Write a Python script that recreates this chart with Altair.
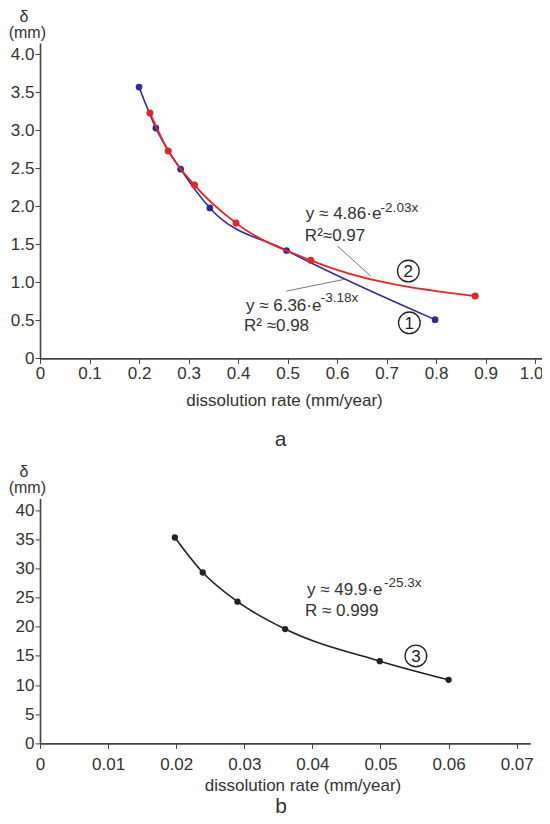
import altair as alt
import pandas as pd

FONT = "Liberation Sans"
BLUE = "#2e2d8c"
RED = "#e4252b"
BLACK = "#222222"
TXT = "#333333"

# ---- data ----
blue_x = [0.200, 0.234, 0.284, 0.343, 0.498, 0.798]
blue_y = [3.57, 3.03, 2.49, 1.98, 1.42, 0.51]
red_x = [0.222, 0.259, 0.312, 0.396, 0.547, 0.879]
red_y = [3.23, 2.73, 2.28, 1.78, 1.29, 0.82]
b_x = [0.0198, 0.0239, 0.0290, 0.0360, 0.0499, 0.0600]
b_y = [35.3, 29.3, 24.3, 19.6, 14.1, 10.9]

top_xticks = [0, 0.1, 0.2, 0.3, 0.4, 0.5, 0.6, 0.7, 0.8, 0.9, 1.0]
top_yticks = [0, 0.5, 1.0, 1.5, 2.0, 2.5, 3.0, 3.5, 4.0]
bot_xticks = [0, 0.01, 0.02, 0.03, 0.04, 0.05, 0.06, 0.07]
bot_yticks = [0, 5, 10, 15, 20, 25, 30, 35, 40]

# annotations (data coordinates)
top_ann_text = ["y ≈ 4.86·e", "R²≈0.97", "y ≈ 6.36·e", "R² ≈0.98"]
top_ann_x = [0.537, 0.535, 0.416, 0.412]
top_ann_y = [1.895, 1.61, 0.69, 0.425]
top_sup_text = ["-2.03x", "-3.18x"]
top_sup_x = [0.688, 0.567]
top_sup_y = [1.98, 0.80]
top_lead_x = [0.601, 0.498]
top_lead_y = [1.478, 0.886]
top_lead_x2 = [0.668, 0.614]
top_lead_y2 = [1.083, 1.039]
top_circ_text = ["2", "1"]
top_circ_x = [0.744, 0.746]
top_circ_y = [1.149, 0.468]

bot_ann_text = ["y ≈ 49.9·e", "R ≈ 0.999"]
bot_ann_x = [0.0392, 0.0389]
bot_ann_y = [26.3, 22.7]
bot_sup_text = ["-25.3x"]
bot_sup_x = [0.0505]
bot_sup_y = [27.55]
bot_circ_text = ["3"]
bot_circ_x = [0.0552]
bot_circ_y = [15.0]

x_title = "dissolution rate (mm/year)"

# ---- scales / axes ----
xs_top = alt.Scale(domain=[0, 1.018], nice=False, zero=False)
ys_top = alt.Scale(domain=[0, 4.15], nice=False, zero=False)
xs_bot = alt.Scale(domain=[0, 0.072], nice=False, zero=False)
ys_bot = alt.Scale(domain=[0, 42], nice=False, zero=False)

xax_top = alt.Axis(values=top_xticks, title=x_title,
                   labelExpr="datum.value == 0 ? '0' : format(datum.value, '.1f')",
                   labelOffset={"condition": {"test": "datum.value > 0.95", "value": -4}, "value": 0},
                   titleX=244, titleY=42, titleBaseline="middle", titleAlign="center",
                   labelPadding=2, tickSize=5, labelFlush=False, labelOverlap=False)
yax_top = alt.Axis(values=top_yticks, title=None,
                   labelExpr="datum.value == 0 ? '0' : format(datum.value, '.1f')",
                   labelPadding=1, tickSize=5, labelOverlap=False)
xax_bot = alt.Axis(values=bot_xticks, title=x_title,
                   labelExpr="datum.value == 0 ? '0' : format(datum.value, '.2f')",
                   titleX=262.5, titleY=41.6, titleBaseline="middle", titleAlign="center",
                   labelPadding=8, tickSize=5, labelFlush=False, labelOverlap=False)
yax_bot = alt.Axis(values=bot_yticks, title=None, format="d",
                   labelPadding=1, tickSize=5, labelOverlap=False)


def enc(xs, ys, xa, ya):
    return dict(x=alt.X("x:Q", scale=xs, axis=xa), y=alt.Y("y:Q", scale=ys, axis=ya))


def series(xv, yv, color, width, size, xs, ys, xa, ya):
    df = pd.DataFrame({"x": xv, "y": yv})
    line = alt.Chart(df).mark_line(color=color, strokeWidth=width, interpolate="monotone").encode(**enc(xs, ys, xa, ya))
    pts = alt.Chart(df).mark_circle(color=color, size=size, opacity=1).encode(**enc(xs, ys, xa, ya))
    return [line, pts]


def texts(tv, xv, yv, size, xs, ys, xa, ya, align="left"):
    df = pd.DataFrame({"x": xv, "y": yv, "t": tv})
    return alt.Chart(df).mark_text(align=align, baseline="middle", font=FONT, fontSize=size,
                                   color=TXT).encode(text="t:N", **enc(xs, ys, xa, ya))


def circles(tv, xv, yv, xs, ys, xa, ya):
    df = pd.DataFrame({"x": xv, "y": yv, "t": tv})
    c = alt.Chart(df).mark_point(shape="circle", size=470, filled=False, color=BLACK,
                                 strokeWidth=1.3, opacity=1).encode(**enc(xs, ys, xa, ya))
    t = alt.Chart(df).mark_text(align="center", baseline="middle", font=FONT, fontSize=17,
                                color=BLACK, dy=1).encode(text="t:N", **enc(xs, ys, xa, ya))
    return [c, t]


def unit_labels():
    df = pd.DataFrame({"t": ["δ", "(mm)"], "kind": ["d", "m"]})
    d = alt.Chart(df).transform_filter("datum.kind == 'd'").mark_text(
        align="center", baseline="middle", font=FONT, fontSize=16, color=TXT
    ).encode(text="t:N", x=alt.value(-16), y=alt.value(-26.5))
    m = alt.Chart(df).transform_filter("datum.kind == 'm'").mark_text(
        align="left", baseline="middle", font=FONT, fontSize=16, color=TXT
    ).encode(text="t:N", x=alt.value(-31.3), y=alt.value(-10.5))
    return [d, m]


def panel_letter(letter, px, py, baseline):
    df = pd.DataFrame({"t": [letter]})
    return alt.Chart(df).mark_text(align="center", baseline=baseline, font=FONT, fontSize=21,
                                   color=TXT).encode(text="t:N", x=alt.value(px), y=alt.value(py))


# ---- top panel ----
lead_df = pd.DataFrame({"x": top_lead_x, "y": top_lead_y, "x2": top_lead_x2, "y2": top_lead_y2})
leads = alt.Chart(lead_df).mark_rule(color="#777777", strokeWidth=1).encode(
    x2="x2:Q", y2="y2:Q", **enc(xs_top, ys_top, xax_top, yax_top))

top_layers = (
    series(blue_x, blue_y, BLUE, 1.6, 45, xs_top, ys_top, xax_top, yax_top)
    + series(red_x, red_y, RED, 1.8, 50, xs_top, ys_top, xax_top, yax_top)
    + [leads,
       texts(top_ann_text, top_ann_x, top_ann_y, 17, xs_top, ys_top, xax_top, yax_top),
       texts(top_sup_text, top_sup_x, top_sup_y, 13.5, xs_top, ys_top, xax_top, yax_top)]
    + circles(top_circ_text, top_circ_x, top_circ_y, xs_top, ys_top, xax_top, yax_top)
    + unit_labels()
    + [panel_letter("a", 240.7, 397.3, "middle")]
)
top = alt.layer(*top_layers).properties(width=504, height=315.4)

# ---- bottom panel ----
bot_layers = (
    series(b_x, b_y, BLACK, 1.6, 40, xs_bot, ys_bot, xax_bot, yax_bot)
    + [texts(bot_ann_text, bot_ann_x, bot_ann_y, 17, xs_bot, ys_bot, xax_bot, yax_bot),
       texts(bot_sup_text, bot_sup_x, bot_sup_y, 13.5, xs_bot, ys_bot, xax_bot, yax_bot)]
    + circles(bot_circ_text, bot_circ_x, bot_circ_y, xs_bot, ys_bot, xax_bot, yax_bot)
    + unit_labels()
    + [panel_letter("b", 241, 315, "alphabetic")]
)
bottom = alt.layer(*bot_layers).properties(width=490.3, height=245)

chart = alt.vconcat(top, bottom, spacing=139.4, bounds="flush").properties(
    padding={"left": 0, "top": 0, "right": -2, "bottom": 0}
).configure_view(stroke=None).configure_axis(
    domainColor="#444444", domainWidth=1.6, tickColor="#444444", tickWidth=1,
    labelFont=FONT, labelFontSize=17, labelColor=TXT,
    titleFont=FONT, titleFontSize=17, titleColor=TXT, titleFontWeight="normal",
    grid=False
)

chart.save("out.html", embed_options={"renderer": "svg", "actions": False})
